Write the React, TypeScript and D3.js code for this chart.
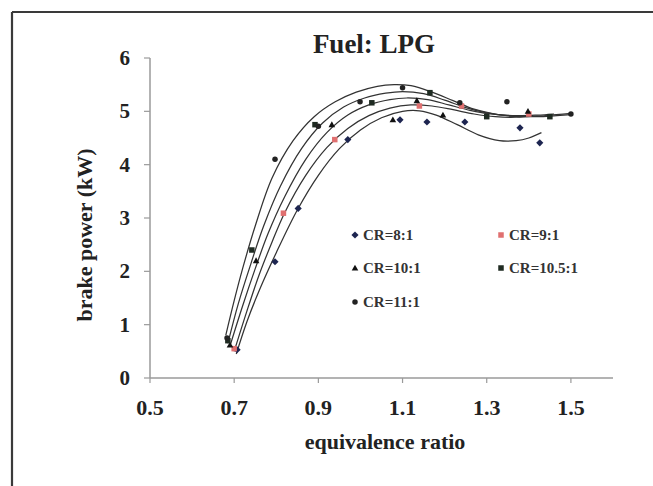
import React from "react";
import * as d3 from "d3";

const W = 653;
const H = 486;

const seriesNames = ["CR=8:1", "CR=9:1", "CR=10:1", "CR=10.5:1", "CR=11:1"];
const seriesColors = ["#1d2550", "#e07070", "#111111", "#1f2b22", "#222222"];
const seriesShapes = ["diamond", "square", "triangle", "square", "circle"];

// measured points
const cr8X = [0.707, 0.797, 0.852, 0.97, 1.094, 1.158, 1.248, 1.379, 1.426];
const cr8Y = [0.53, 2.18, 3.18, 4.47, 4.84, 4.8, 4.8, 4.69, 4.41];
const cr9X = [0.7, 0.817, 0.939, 1.14, 1.24, 1.4];
const cr9Y = [0.55, 3.09, 4.47, 5.1, 5.1, 4.95];
const cr10X = [0.69, 0.752, 0.932, 1.077, 1.134, 1.196, 1.398];
const cr10Y = [0.62, 2.2, 4.75, 4.84, 5.2, 4.93, 5.0];
const cr105X = [0.685, 0.742, 0.892, 1.027, 1.165, 1.3, 1.45];
const cr105Y = [0.7, 2.4, 4.75, 5.16, 5.35, 4.9, 4.9];
const cr11X = [0.683, 0.797, 0.9, 0.999, 1.1, 1.236, 1.348, 1.5];
const cr11Y = [0.75, 4.1, 4.72, 5.18, 5.44, 5.16, 5.18, 4.95];

// trendlines
const fit8X = [0.705, 0.73, 0.76, 0.8, 0.85, 0.9, 0.95, 1.0, 1.05, 1.1, 1.14, 1.18, 1.23, 1.28, 1.33, 1.37, 1.4, 1.43];
const fit8Y = [0.45, 1.05, 1.65, 2.35, 3.15, 3.8, 4.3, 4.65, 4.88, 5.0, 5.01, 4.93, 4.75, 4.56, 4.45, 4.45, 4.5, 4.6];
const fit9X = [0.7, 0.73, 0.76, 0.79, 0.82, 0.87, 0.92, 0.97, 1.02, 1.07, 1.12, 1.17, 1.22, 1.27, 1.32, 1.37, 1.41];
const fit9Y = [0.5, 1.25, 1.95, 2.55, 3.1, 3.8, 4.32, 4.68, 4.92, 5.06, 5.12, 5.1, 5.03, 4.95, 4.9, 4.89, 4.92];
const fit10X = [0.69, 0.72, 0.75, 0.78, 0.82, 0.87, 0.92, 0.97, 1.02, 1.07, 1.11, 1.16, 1.21, 1.26, 1.31, 1.37, 1.42, 1.46];
const fit10Y = [0.6, 1.35, 2.05, 2.7, 3.4, 4.1, 4.6, 4.93, 5.12, 5.22, 5.25, 5.22, 5.12, 5.02, 4.95, 4.92, 4.93, 4.95];
const fit105X = [0.685, 0.71, 0.74, 0.77, 0.81, 0.86, 0.91, 0.96, 1.01, 1.06, 1.1, 1.15, 1.2, 1.25, 1.3, 1.36, 1.42, 1.5];
const fit105Y = [0.65, 1.4, 2.15, 2.85, 3.6, 4.3, 4.78, 5.08, 5.25, 5.34, 5.37, 5.33, 5.21, 5.07, 4.97, 4.91, 4.9, 4.94];
const fit11X = [0.68, 0.7, 0.72, 0.75, 0.79, 0.84, 0.89, 0.94, 0.99, 1.04, 1.08, 1.12, 1.17, 1.22, 1.27, 1.32, 1.38, 1.44, 1.5];
const fit11Y = [0.8, 1.45, 2.05, 2.85, 3.75, 4.45, 4.9, 5.18, 5.36, 5.47, 5.5, 5.48, 5.36, 5.2, 5.04, 4.95, 4.9, 4.92, 4.96];

const pointsX = [cr8X, cr9X, cr10X, cr105X, cr11X];
const pointsY = [cr8Y, cr9Y, cr10Y, cr105Y, cr11Y];
const fitsX = [fit8X, fit9X, fit10X, fit105X, fit11X];
const fitsY = [fit8Y, fit9Y, fit10Y, fit105Y, fit11Y];

const xTicks = [0.5, 0.7, 0.9, 1.1, 1.3, 1.5];
const yTicks = [0, 1, 2, 3, 4, 5, 6];

const FONT = "'Liberation Serif', 'Times New Roman', serif";

function Marker({ shape, x, y, color, size }: { shape: string; x: number; y: number; color: string; size: number }) {
  const s = size;
  if (shape === "diamond") {
    return <path d={`M${x},${y - s * 0.65}L${x + s * 0.65},${y}L${x},${y + s * 0.65}L${x - s * 0.65},${y}Z`} fill={color} />;
  }
  if (shape === "triangle") {
    return <path d={`M${x},${y - s * 0.6}L${x + s * 0.6},${y + s * 0.45}L${x - s * 0.6},${y + s * 0.45}Z`} fill={color} />;
  }
  if (shape === "circle") {
    return <circle cx={x} cy={y} r={s * 0.5} fill={color} />;
  }
  return <rect x={x - s / 2} y={y - s / 2} width={s} height={s} fill={color} />;
}

export default function App() {
  const x = d3.scaleLinear().domain([0.5, 1.6]).range([150, 613]);
  const y = d3.scaleLinear().domain([0, 6]).range([378, 58]);
  const line = d3
    .line<[number, number]>()
    .x((d) => x(d[0]))
    .y((d) => y(d[1]))
    .curve(d3.curveCatmullRom.alpha(0.5));

  const legendPos = [
    [355, 235],
    [501, 235],
    [355, 268],
    [501, 268],
    [355, 302],
  ];

  return (
    <svg width={W} height={H} style={{ position: "absolute", left: 0, top: 0, background: "#fff" }}>
      <rect x={0} y={0} width={W} height={H} fill="#fff" />
      {/* frame */}
      <line x1={12} y1={12} x2={W} y2={12} stroke="#3a3a3a" strokeWidth={2.2} />
      <line x1={12} y1={12} x2={12} y2={H} stroke="#3a3a3a" strokeWidth={2.2} />

      {/* title */}
      <text x={374} y={53} textAnchor="middle" fontFamily={FONT} fontWeight="bold" fontSize={27} fill="#222">
        Fuel: LPG
      </text>

      {/* axes */}
      <line x1={x(0.5)} y1={y(0)} x2={x(1.6)} y2={y(0)} stroke="#9a9a9a" strokeWidth={1.5} />
      <line x1={x(0.5)} y1={y(0)} x2={x(0.5)} y2={y(6)} stroke="#9a9a9a" strokeWidth={1.5} />
      {yTicks.map((t) => (
        <g key={"yt" + t}>
          <line x1={x(0.5) - 6} x2={x(0.5)} y1={y(t)} y2={y(t)} stroke="#9a9a9a" strokeWidth={1.2} />
          <text x={130} y={y(t) + 7} textAnchor="end" fontFamily={FONT} fontWeight="bold" fontSize={21} fill="#222">
            {t}
          </text>
        </g>
      ))}
      {xTicks.map((t) => (
        <g key={"xt" + t}>
          <line x1={x(t)} x2={x(t)} y1={y(0)} y2={y(0) + 5} stroke="#9a9a9a" strokeWidth={1.2} />
          <text x={x(t)} y={415} textAnchor="middle" fontFamily={FONT} fontWeight="bold" fontSize={22} fill="#222">
            {t.toFixed(1)}
          </text>
        </g>
      ))}

      <text x={385} y={449} textAnchor="middle" fontFamily={FONT} fontWeight="bold" fontSize={22} fill="#222">
        equivalence ratio
      </text>
      <text
        transform={`translate(92,235) rotate(-90)`}
        textAnchor="middle"
        fontFamily={FONT}
        fontWeight="bold"
        fontSize={22}
        fill="#222"
      >
        brake power (kW)
      </text>

      {/* trend lines */}
      {fitsX.map((fx, i) => (
        <path
          key={"fit" + i}
          d={line(fx.map((v, j) => [v, fitsY[i][j]]) as [number, number][]) || ""}
          fill="none"
          stroke="#333"
          strokeWidth={1.25}
        />
      ))}

      {/* points */}
      {pointsX.map((px, i) =>
        px.map((v, j) => (
          <Marker key={`p${i}-${j}`} shape={seriesShapes[i]} x={x(v)} y={y(pointsY[i][j])} color={seriesColors[i]} size={5.5} />
        ))
      )}

      {/* legend */}
      {seriesNames.map((n, i) => (
        <g key={"lg" + i}>
          <Marker shape={seriesShapes[i]} x={legendPos[i][0]} y={legendPos[i][1]} color={seriesColors[i]} size={5.5} />
          <text
            x={legendPos[i][0] + 8}
            y={legendPos[i][1] + 5}
            fontFamily={FONT}
            fontWeight="bold"
            fontSize={15}
            fill="#333"
          >
            {n}
          </text>
        </g>
      ))}
    </svg>
  );
}
